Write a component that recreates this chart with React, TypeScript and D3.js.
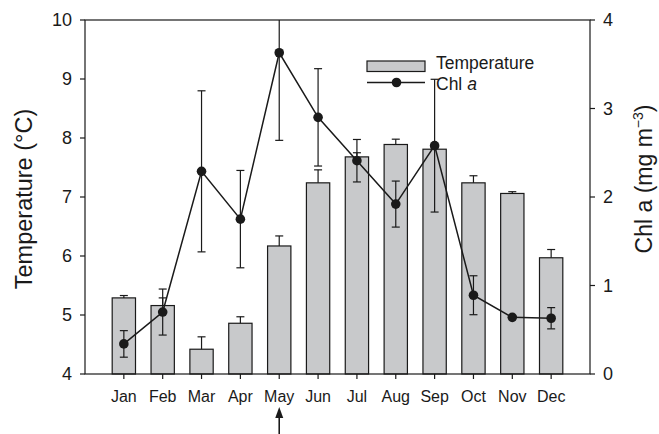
import * as d3 from "d3";

// monthly means
const months = ["Jan", "Feb", "Mar", "Apr", "May", "Jun", "Jul", "Aug", "Sep", "Oct", "Nov", "Dec"];
const tempMean = [5.29, 5.16, 4.42, 4.86, 6.17, 7.24, 7.68, 7.89, 7.81, 7.24, 7.06, 5.97];
const tempErr = [0.04, 0.13, 0.21, 0.11, 0.17, 0.22, 0.07, 0.09, 0.02, 0.12, 0.03, 0.14];
const chlMean = [0.34, 0.7, 2.29, 1.75, 3.63, 2.9, 2.41, 1.92, 2.58, 0.89, 0.64, 0.63];
const chlErr = [0.15, 0.26, 0.91, 0.55, 0.99, 0.55, 0.24, 0.26, 0.75, 0.22, 0, 0.12];
const tempTicks = [4, 5, 6, 7, 8, 9, 10];
const chlTicks = [0, 1, 2, 3, 4];
const arrowMonth = "May";

const W = 659;
const H = 434;
const margin = { top: 20, right: 69, bottom: 60, left: 85 };
const font = "'Liberation Sans', Arial, sans-serif";

export default function App() {
  const innerW = W - margin.left - margin.right;
  const innerH = H - margin.top - margin.bottom;

  const x = d3.scalePoint().domain(months).range([0, innerW]).padding(1);
  const step = x.step();
  const barW = step * 0.6;
  const yT = d3.scaleLinear().domain([4, 10]).range([innerH, 0]);
  const yC = d3.scaleLinear().domain([0, 4]).range([innerH, 0]);

  const line = d3
    .line<number>()
    .x((_, i) => x(months[i])!)
    .y((d) => yC(d));

  const cap = 4;
  const ink = "#1a1a1a";

  return (
    <svg
      width={W}
      height={H}
      style={{ position: "absolute", left: 0, top: 0, background: "#fff" }}
      fontFamily={font}
    >
      <g transform={`translate(${margin.left},${margin.top})`}>
        {/* temperature bars */}
        {tempMean.map((v, i) => {
          const cx = x(months[i])!;
          const top = yT(v + tempErr[i]);
          return (
            <g key={"b" + i}>
              <rect
                x={cx - barW / 2}
                y={yT(v)}
                width={barW}
                height={innerH - yT(v)}
                fill="#c8c9cb"
                stroke={ink}
                strokeWidth={1.2}
              />
              <line x1={cx} x2={cx} y1={yT(v)} y2={top} stroke={ink} strokeWidth={1.2} />
              <line x1={cx - cap} x2={cx + cap} y1={top} y2={top} stroke={ink} strokeWidth={1.2} />
            </g>
          );
        })}

        {/* chl error bars */}
        {chlMean.map((v, i) => {
          if (!chlErr[i]) return null;
          const cx = x(months[i])!;
          const hi = v + chlErr[i];
          const lo = v - chlErr[i];
          const yHi = yC(Math.min(hi, 4));
          return (
            <g key={"e" + i} stroke={ink} strokeWidth={1.2}>
              <line x1={cx} x2={cx} y1={yHi} y2={yC(lo)} />
              {hi <= 4 && <line x1={cx - cap} x2={cx + cap} y1={yHi} y2={yHi} />}
              <line x1={cx - cap} x2={cx + cap} y1={yC(lo)} y2={yC(lo)} />
            </g>
          );
        })}

        <path d={line(chlMean)!} fill="none" stroke={ink} strokeWidth={1.5} />
        {chlMean.map((v, i) => (
          <circle key={"c" + i} cx={x(months[i])!} cy={yC(v)} r={4.8} fill={ink} />
        ))}

        {/* frame */}
        <rect x={0} y={0} width={innerW} height={innerH} fill="none" stroke={ink} strokeWidth={1.2} />

        {/* left axis */}
        {tempTicks.map((t) => (
          <g key={"lt" + t} transform={`translate(0,${yT(t)})`}>
            <line x1={-5} x2={0} stroke={ink} strokeWidth={1.2} />
            <text x={-13} dy="0.36em" textAnchor="end" fontSize={18} fill={ink}>
              {t}
            </text>
          </g>
        ))}
        {/* right axis */}
        {chlTicks.map((t) => (
          <g key={"rt" + t} transform={`translate(${innerW},${yC(t)})`}>
            <line x1={0} x2={5} stroke={ink} strokeWidth={1.2} />
            <text x={13} dy="0.36em" textAnchor="start" fontSize={18} fill={ink}>
              {t}
            </text>
          </g>
        ))}
        {/* bottom axis */}
        {months.map((m) => (
          <g key={"bt" + m} transform={`translate(${x(m)},${innerH})`}>
            <line y1={0} y2={5} stroke={ink} strokeWidth={1.2} />
            <text y={28} textAnchor="middle" fontSize={16} fill={ink}>
              {m}
            </text>
          </g>
        ))}

        {/* arrow under May */}
        <g transform={`translate(${x(arrowMonth)},${innerH})`}>
          <line y1={42} y2={62} stroke={ink} strokeWidth={1.6} />
          <path d="M0,33 L-4,44 L4,44 Z" fill={ink} />
        </g>

        {/* axis titles */}
        <text
          transform={`translate(${-53},${innerH / 2 + 2}) rotate(-90)`}
          textAnchor="middle"
          fontSize={23.5}
          fill={ink}
        >
          Temperature (°C)
        </text>
        <text
          transform={`translate(${innerW + 62},${innerH / 2 - 18}) rotate(-90)`}
          textAnchor="middle"
          fontSize={23}
          fill={ink}
        >
          Chl a (mg m
          <tspan fontSize={14} dy={-9}>
            −3
          </tspan>
          <tspan dy={9}>)</tspan>
        </text>

        {/* legend */}
        <g transform={`translate(${367 - margin.left},${margin.top})`}>
          <rect x={0} y={21} width={58} height={10.5} fill="#c8c9cb" stroke={ink} strokeWidth={1.2} />
          <text x={69} y={29} fontSize={17.5} fill={ink}>
            Temperature
          </text>
          <line x1={0} x2={58} y1={42.5} y2={42.5} stroke={ink} strokeWidth={1.5} />
          <circle cx={29.5} cy={42.5} r={4.8} fill={ink} />
          <text x={69} y={50} fontSize={17.5} fill={ink}>
            Chl <tspan fontStyle="italic">a</tspan>
          </text>
        </g>
      </g>
    </svg>
  );
}
